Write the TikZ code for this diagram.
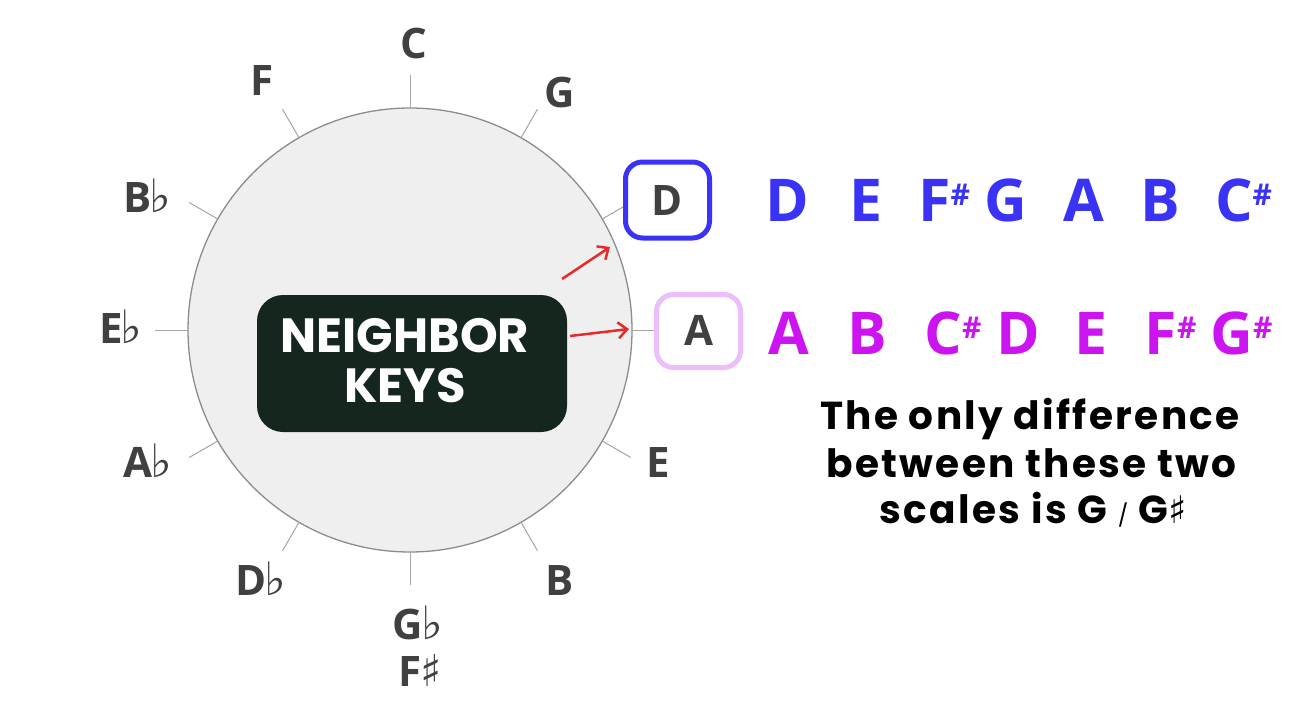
\documentclass[tikz,border=0pt]{standalone}
\usepackage{fontspec}
\setmainfont{Open Sans}
\newfontfamily\popp{Poppins}
\newfontfamily\poppwide[LetterSpace=6]{Poppins}
\newfontfamily\djv{DejaVu Sans}
\usetikzlibrary{arrows.meta}
\definecolor{lblgray}{RGB}{64,64,64}
\definecolor{circfill}{RGB}{239,239,239}
\definecolor{circline}{RGB}{140,140,140}
\definecolor{tickgray}{RGB}{165,165,165}
\definecolor{scaleblue}{RGB}{58,50,245}
\definecolor{scalemag}{RGB}{204,20,240}
\definecolor{boxviolet}{RGB}{236,190,250}
\definecolor{darkbox}{RGB}{21,38,31}
\definecolor{arrowred}{RGB}{235,40,40}
\newcommand\myflat{\kern-2pt{\djv\fontsize{46}{46}\selectfont ♭}}
\newcommand\mysharp{\kern-1pt{\djv\fontsize{44}{44}\selectfont ♯}}
\newcommand\supsharp{\raisebox{16pt}{\fontsize{30}{30}\selectfont\bfseries\#}}
\begin{document}
\begin{tikzpicture}[x=1pt,y=-1pt,
  keylbl/.style={font=\fontsize{42}{42}\selectfont\bfseries, text=lblgray, anchor=base, inner sep=0pt},
  tickline/.style={draw=tickgray, line width=1pt},
  keybox/.style={rounded corners=17pt, line width=5pt, fill=white, minimum width=84pt, minimum height=76pt, inner sep=0pt},
  note/.style={font=\fontsize{59}{59}\selectfont\bfseries, anchor=base, inner sep=0pt},
  caption/.style={font=\poppwide\fontsize{39}{39}\selectfont\bfseries, anchor=base, inner sep=0pt},
  nklbl/.style={font=\popp\fontsize{48}{48}\selectfont\bfseries, text=white, anchor=base, inner sep=0pt},
  redarrow/.style={draw=arrowred, line width=2.5pt, -{Straight Barb[length=9pt,width=16pt,line width=2.5pt]}}
]
\useasboundingbox (0,0) rectangle (1311,718);

% circle
\node[circle, fill=circfill, draw=circline, line width=1.3pt, minimum size=444pt, inner sep=0pt] (circ) at (410,330) {};
\foreach \a in {0,30,...,330}
  \draw[tickline] ([shift={(410,330)}]-\a:222) -- ([shift={(410,330)}]-\a:255);

% labels around
\node[keylbl] (kC)  at (414,58.5) {C};
\node[keylbl] (kG)  at (560,107.5) {G};
\node[keylbl] (kF)  at (262,95.5) {F};
\node[keylbl] (kBb) at (147,212.5) {B\myflat};
\node[keylbl] (kEb) at (121,343.5) {E\myflat};
\node[keylbl] (kAb) at (148,477.5) {A\myflat};
\node[keylbl] (kDb) at (261,595.5) {D\myflat};
\node[keylbl] (kGb) at (418,639.5) {G\myflat};
\node[keylbl] (kFs) at (420,686.5) {F\mysharp};
\node[keylbl] (kB)  at (560,595.5) {B};
\node[keylbl] (kE)  at (658,477.5) {E};

% boxes
\node[keybox, draw=scaleblue] (boxD) at (667.5,200) {};
\node[keylbl] (kD) at (667.5,215.5) {D};
\node[keybox, draw=boxviolet, minimum height=73pt] (boxA) at (698.5,331) {};
\node[keylbl] (kA) at (698.5,345.5) {A};

% center box
\node[fill=darkbox, rounded corners=26pt, minimum width=310pt, minimum height=137pt, inner sep=0pt] (nk) at (412,363.5) {};
\node[nklbl] (nk1) at (405,352) {NEIGHBOR};
\node[nklbl] (nk2) at (405,402) {KEYS};

% arrows
\coordinate (a1s) at (562,279);
\coordinate (a1e) at (610,247);
\coordinate (a2s) at (570,336);
\coordinate (a2e) at (629,329);
\draw[redarrow] (a1s) -- (a1e);
\draw[redarrow] (a2s) -- (a2e);

% D major scale
\begin{scope}[every node/.style={note, text=scaleblue}]
\node (d1) at (787.5,221) {D};
\node (d2) at (866,221) {E};
\node (d3) at (944,221) {F\supsharp};
\node (d4) at (1005.5,221) {G};
\node (d5) at (1083.5,221) {A};
\node (d6) at (1160,221) {B};
\node (d7) at (1243.5,221) {C\supsharp};
\end{scope}

% A major scale
\begin{scope}[every node/.style={note, text=scalemag}]
\node (m1) at (789,354) {A};
\node (m2) at (867,354) {B};
\node (m3) at (953,354) {C\supsharp};
\node (m4) at (1018.5,354) {D};
\node (m5) at (1091.5,354) {E};
\node (m6) at (1170.5,354) {F\supsharp};
\node (m7) at (1241.5,354) {G\supsharp};
\end{scope}

% caption
\node[caption] (c1) at (1030,429) {The only difference};
\node[caption] (c2) at (1031.5,477) {between these two};
\node[caption] (c3) at (1033.5,523) {scales is G {\popp\fontsize{22}{22}\selectfont\mdseries /} G{\djv\fontsize{38}{38}\selectfont ♯}};
\end{tikzpicture}
\end{document}
